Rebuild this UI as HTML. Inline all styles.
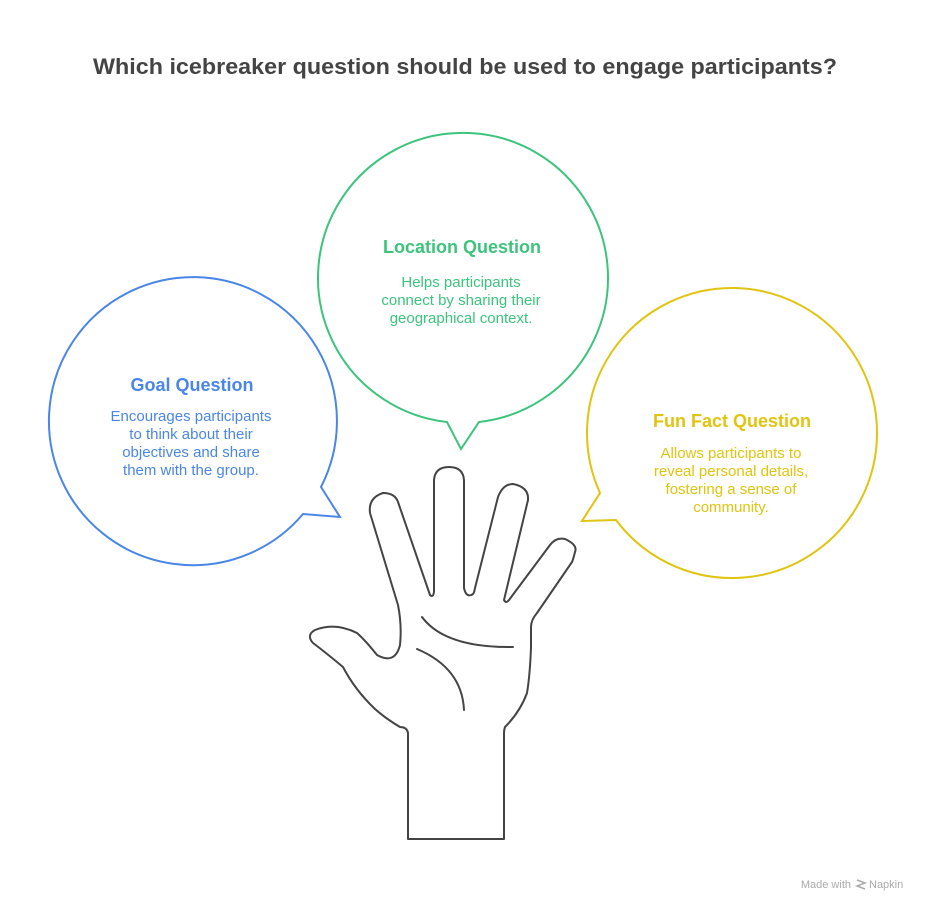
<!DOCTYPE html>
<html><head><meta charset="utf-8"><style>
html,body{margin:0;padding:0;background:#fff;}
svg text{font-family:"Liberation Sans",sans-serif;}
</style></head><body>
<svg width="929" height="912" viewBox="0 0 929 912" xmlns="http://www.w3.org/2000/svg">
<text x="93" y="74" font-size="22" font-weight="bold" fill="#444" textLength="744" lengthAdjust="spacingAndGlyphs">Which icebreaker question should be used to engage participants?</text>

<path d="M303,514 A144,144 0 1 1 321,487 L340,517 Z" fill="none" stroke="#4a86e8" stroke-width="2" stroke-linejoin="miter"/>
<path d="M479,422 A145,145 0 1 0 447,422 L461,449 Z" fill="none" stroke="#3cc47c" stroke-width="2"/>
<path d="M616,520 A145,145 0 1 0 600,493 L582,521 Z" fill="none" stroke="#e0c40f" stroke-width="2"/>

<g fill="#4a86e8" text-anchor="middle">
<text x="192" y="391" font-size="18" font-weight="bold">Goal Question</text>
<text x="191" y="421" font-size="15">Encourages participants</text>
<text x="191" y="439" font-size="15">to think about their</text>
<text x="191" y="457" font-size="15">objectives and share</text>
<text x="191" y="475" font-size="15">them with the group.</text>
</g>
<g fill="#3cc47c" text-anchor="middle">
<text x="462" y="253" font-size="18" font-weight="bold">Location Question</text>
<text x="461" y="287" font-size="15">Helps participants</text>
<text x="461" y="305" font-size="15">connect by sharing their</text>
<text x="461" y="323" font-size="15">geographical context.</text>
</g>
<g fill="#e0c40f" text-anchor="middle">
<text x="732" y="427" font-size="18" font-weight="bold">Fun Fact Question</text>
<text x="731" y="458" font-size="15">Allows participants to</text>
<text x="731" y="476" font-size="15">reveal personal details,</text>
<text x="731" y="494" font-size="15">fostering a sense of</text>
<text x="731" y="512" font-size="15">community.</text>
</g>

<g fill="none" stroke="#444" stroke-width="2" stroke-linecap="round" stroke-linejoin="round">
<path d="M408,839 L408,733 Q407,727 400,727 Q385,718 375,709 Q355,690 343,667 Q325,652 313,643 Q306,635 315,630 Q335,622 357,633 Q366,641 377,655 Q395,665 400,645 Q402,625 398,605 L370,513 Q368,498 383,493 Q395,493 398,502 L430,595 Q433,598 434,592 L434,480 Q435,467 449,467 Q463,467 464,480 L464,588 Q466,597 471,595 Q474,595 475,588 L498,497 Q503,484 513,484 Q529,487 528,500 L504,600 Q506,604 509,600 L550,545 Q556,537 565,539 Q578,545 575,552 Q573,560 572,562 L537,613 Q531,620 531,627 L531,647 Q530,675 527,693 Q520,712 505,727 Q504,730 504,733 L504,839 Z"/>
<path d="M422,617 Q445,648 513,647"/>
<path d="M417,649 Q462,668 464,710"/>
</g>

<text x="851" y="888" text-anchor="end" font-size="11" fill="#aaa">Made with</text>
<path d="M857,880 l8,3 l-8,3 l8,3" fill="none" stroke="#aaa" stroke-width="1.5"/>
<text x="869" y="888" font-size="11" fill="#aaa">Napkin</text>
</svg>
</body></html>
